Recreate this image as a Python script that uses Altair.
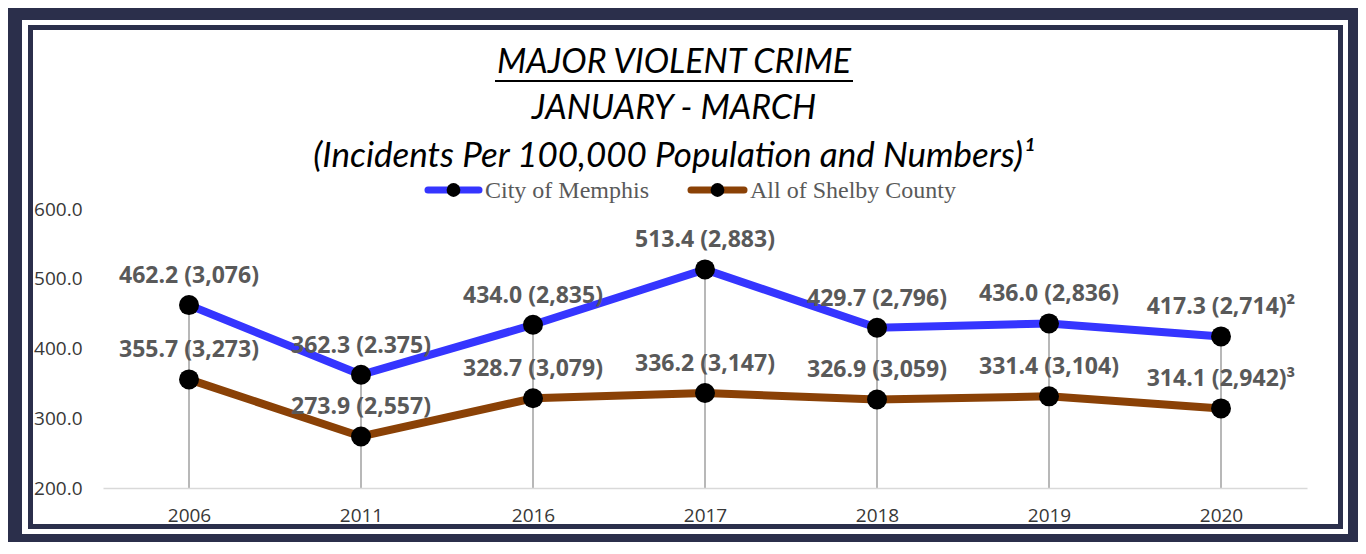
import altair as alt
import pandas as pd

# ---- data ----
years = ["2006", "2011", "2016", "2017", "2018", "2019", "2020"]
memphis_rate = [462.2, 362.3, 434.0, 513.4, 429.7, 436.0, 417.3]
memphis_labels = ["462.2 (3,076)", "362.3 (2.375)", "434.0 (2,835)", "513.4 (2,883)",
                  "429.7 (2,796)", "436.0 (2,836)", "417.3 (2,714)²"]
shelby_rate = [355.7, 273.9, 328.7, 336.2, 326.9, 331.4, 314.1]
shelby_labels = ["355.7 (3,273)", "273.9 (2,557)", "328.7 (3,079)", "336.2 (3,147)",
                 "326.9 (3,059)", "331.4 (3,104)", "314.1 (2,942)³"]
series_names = ["City of Memphis", "All of Shelby County"]
y_ticks = [200, 300, 400, 500, 600]
title_lines = ["MAJOR VIOLENT CRIME", "JANUARY - MARCH",
               "(Incidents Per 100,000 Population and Numbers)¹"]

# ---- styles ----
NAVY = "#2b2f4b"
BLUE = "#3535ff"
BROWN = "#8a4106"
LABEL_GRAY = "#595959"
AXIS_GRAY = "#383838"
colors = [BLUE, BROWN]

mem = pd.DataFrame({"year": years, "rate": memphis_rate, "label": memphis_labels,
                    "series": series_names[0]})
shl = pd.DataFrame({"year": years, "rate": shelby_rate, "label": shelby_labels,
                    "series": series_names[1]})
both = pd.concat([mem, shl], ignore_index=True)

x_enc = alt.X("year:N", sort=years,
              scale=alt.Scale(type="point", padding=0.5),
              axis=alt.Axis(title=None, labelAngle=0, ticks=False, grid=False,
                            domainColor="#d9d9d9", domainWidth=1.5,
                            labelFont="Open Sans", labelFontSize=19,
                            labelColor=AXIS_GRAY, labelPadding=18, zindex=1))
y_scale = alt.Scale(domain=[200, 600], nice=False, zero=False)
y_enc = alt.Y("rate:Q", scale=y_scale,
              axis=alt.Axis(title=None, values=y_ticks, format=".1f", domain=False,
                            ticks=False, grid=False, labelFont="Open Sans",
                            labelFontSize=19, labelColor=AXIS_GRAY,
                            labelPadding=21, zindex=1))
color_scale = alt.Scale(domain=series_names, range=colors)

one = pd.DataFrame({"k": [0]})


def frame_rect(x1, x2, y1, y2, col):
    return alt.Chart(one).mark_rect(color=col).encode(
        x=alt.value(x1), x2=alt.value(x2), y=alt.value(y1), y2=alt.value(y2))


frame = [
    frame_rect(-95, 1255, -201, 333, NAVY),
    frame_rect(-81, 1245, -189, 325, "white"),
    frame_rect(-75, 1240, -184, 320, NAVY),
    frame_rect(-70, 1235, -179, 315, "white"),
]

drops = alt.Chart(mem).mark_rule(color="#a0a0a0", strokeWidth=1.5).encode(
    x=x_enc, y=y_enc, y2=alt.datum(200))

lines = alt.Chart(both).mark_line(strokeWidth=8).encode(
    x=x_enc, y=y_enc,
    color=alt.Color("series:N", scale=color_scale, legend=None),
    detail="series:N")

points = alt.Chart(both).mark_circle(color="black", opacity=1, size=400).encode(
    x=x_enc, y=y_enc)

labels = alt.Chart(both).mark_text(font="Open Sans", fontWeight="bold", fontSize=23,
                                   color=LABEL_GRAY, dy=-29, baseline="middle").encode(
    x=x_enc, y=y_enc, text="label:N")

# ---- title ----
title_layers = []
for txt, yy, fs in zip(title_lines, [-146, -100, -53], [34, 34, 35]):
    title_layers.append(
        alt.Chart(one).mark_text(font="Lato", fontStyle="italic", fontSize=fs,
                                 color="black", baseline="middle", align="center").encode(
            x=alt.value(571), y=alt.value(yy), text=alt.value(txt)))
underline = alt.Chart(one).mark_rule(color="black", strokeWidth=2).encode(
    x=alt.value(392), x2=alt.value(750), y=alt.value(-128))

# ---- legend ----
legend_layers = []
for name, col, x0, x1 in zip(series_names, colors, [322, 585], [379, 644]):
    legend_layers.append(alt.Chart(one).mark_rule(color=col, strokeWidth=7, strokeCap="round").encode(
        x=alt.value(x0 + 3), x2=alt.value(x1 - 3), y=alt.value(-19)))
    legend_layers.append(alt.Chart(one).mark_circle(color="black", opacity=1, size=190).encode(
        x=alt.value((x0 + x1) / 2), y=alt.value(-19)))
    legend_layers.append(alt.Chart(one).mark_text(font="Liberation Serif", fontSize=24,
                                                  color=LABEL_GRAY, align="left",
                                                  baseline="middle").encode(
        x=alt.value(x1 + 3), y=alt.value(-18), text=alt.value(name)))

chart = alt.layer(
    *frame, drops, lines, points, labels, *title_layers, underline, *legend_layers
).properties(
    width=1204, height=279,
    autosize=alt.AutoSizeParams(type="none"),
    padding={"left": 95, "top": 201, "right": 51, "bottom": 54},
).configure_view(stroke=None)

chart.save("out.html", embed_options={"renderer": "svg", "actions": False})
